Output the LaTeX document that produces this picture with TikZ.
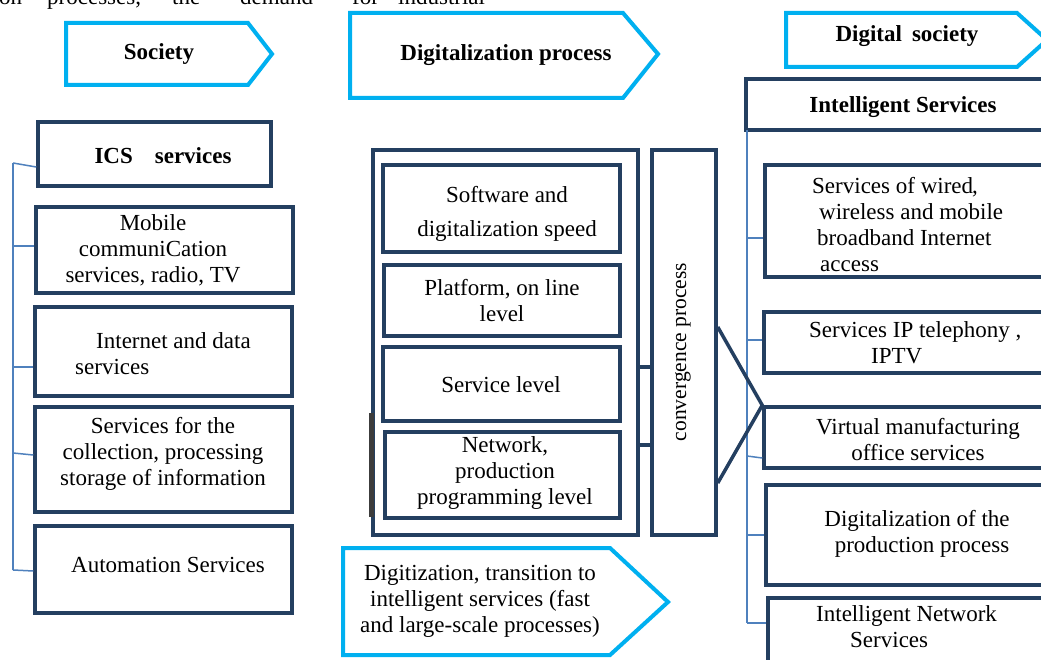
\documentclass[tikz,border=0pt]{standalone}
\usepackage{fontspec}
\setmainfont{Liberation Serif}
\usetikzlibrary{fit}
\definecolor{navy}{HTML}{243F60}
\definecolor{cyanb}{HTML}{00B0F0}
\definecolor{brkc}{HTML}{4F81BD}
\definecolor{barc}{HTML}{3C3C3C}
\begin{document}
\begin{tikzpicture}[x=1pt,y=-1pt,
  box/.style={draw=navy, line width=3.5pt, inner sep=0pt, rectangle},
  txt/.style={font=\fontsize{23}{26}\selectfont, align=center, inner sep=0pt},
  ltxt/.style={font=\fontsize{23}{26}\selectfont, align=left, inner sep=0pt, anchor=west},
  btxt/.style={font=\fontsize{23}{26}\selectfont\bfseries, align=center, inner sep=0pt},
  tag/.style={draw=cyanb, line width=4pt, line join=miter},
  brk/.style={draw=brkc, line width=1.5pt},
  link/.style={draw=navy, line width=3.5pt, line join=miter}]
\useasboundingbox (0,0) rectangle (1041,660);
\clip (0,0) rectangle (1041,660);
\fill[white] (0,0) rectangle (1041,660);

% cut-off line of body text at the top
\begin{scope}[every node/.style={font=\fontsize{23}{26}\selectfont, inner sep=0pt, anchor=base west}]
\node (w1) at (-1,5) {on};
\node (w2) at (47,5) {processes,};
\node (w3) at (172,5) {the};
\node (w4) at (240,5) {demand};
\node (w5) at (352,5) {for};
\node (w6) at (398,5) {industrial};
\end{scope}

% tag arrows
\draw[tag] (66,23) -- (248,23) -- (272,54) -- (248,85) -- (66,85) -- cycle;
\node[btxt] (soc) at (159,54) {Society};
\draw[tag] (350,13) -- (623,13) -- (658,54) -- (623,98) -- (350,98) -- cycle;
\node[btxt] (dproc) at (506,55) {Digitalization process};
\draw[tag] (786,13) -- (1017,13) -- (1047,40) -- (1017,67) -- (786,67) -- cycle;
\node[btxt] (dsoc) at (907,36) {Digital\hspace{10pt}society};
\draw[tag] (343,548) -- (610,548) -- (668,602) -- (610,655) -- (343,655) -- cycle;
\node[txt] (digit) at (480,601) {Digitization, transition to\\intelligent services (fast\\and large-scale processes)};

% left column boxes
\node[box, fit={(38,122) (271,186)}] (ics) {};
\node[box, fit={(36,207) (293,293)}] (mob) {};
\node[box, fit={(35,307) (292,396)}] (inet) {};
\node[box, fit={(35,407) (292,512)}] (coll) {};
\node[box, fit={(35,526) (292,613)}] (auto) {};
\node[btxt] (icsT) at (163,156) {ICS\hspace{22pt}services};
\node[txt] (mobT) at (153,250) {Mobile\\communiCation\\services, radio, TV};
\node[ltxt] (inetT) at (75,354) {\hspace*{21pt}Internet and data\\services};
\node[txt] (collT) at (163,454) {Services for the\\collection, processing\\storage of information};
\node[txt] (autoT) at (168,565) {Automation Services};

% left bracket
\coordinate (lt) at (13,163);
\coordinate (lb) at (13,570);
\draw[brk] (lt) -- (lb);
\draw[brk] (lt) -- (ics.west |- 0,167);
\draw[brk] (13,246) -- (mob.west |- 0,246);
\draw[brk] (13,367) -- (inet.west |- 0,367);
\draw[brk] (13,453) -- (coll.west |- 0,455);
\draw[brk] (lb) -- (auto.west |- 0,571);

% middle
\node[box, fit={(373,150) (638,535)}] (outer) {};
\node[box, fit={(383,165) (620,252)}] (soft) {};
\node[box, fit={(384,265) (620,336)}] (plat) {};
\node[box, fit={(383,347) (620,421)}] (serv) {};
\node[box, fit={(385,432) (620,518)}] (net) {};
\node[box, fit={(652,150) (716,535)}] (conv) {};
\draw[barc, line width=5pt] (outer.west |- 0,413) -- (outer.west |- 0,517);
\node[txt, font=\fontsize{23}{34}\selectfont] (softT) at (507,214) {Software and\\digitalization speed};
\node[txt] (platT) at (502,301) {Platform, on line\\level};
\node[txt] (servT) at (501,385) {Service level};
\node[txt] (netT) at (505,473) {Network,\\production\\programming level};
\node[txt, font=\fontsize{21.5}{24}\selectfont, rotate=90] (convT) at (683,352) {convergence process};
\draw[link] (outer.east |- 0,367) -- (conv.west |- 0,367);
\draw[link] (outer.east |- 0,445) -- (conv.west |- 0,445);

% right column
\node[box, fit={(746,79) (1070,130)}] (isv) {};
\node[box, fit={(765,165) (1070,277)}] (wired) {};
\node[box, fit={(764,312) (1070,373)}] (ip) {};
\node[box, fit={(764,407) (1070,468)}] (virt) {};
\node[box, fit={(766,485) (1070,585)}] (dig) {};
\node[box, fit={(768,598) (1070,680)}] (inw) {};
\node[btxt] (isvT) at (903,107) {Intelligent Services};
\node[ltxt] (wiredT) at (812,225) {Services of wired\kern-1pt,\\\hspace*{7pt}wireless and mobile\\\hspace*{5pt}broadband Internet\\\hspace*{8pt}access};
\node[ltxt] (ipT) at (809,343) {Services IP telephony ,\\\hspace*{62pt}IPTV};
\node[txt] (virtT) at (918,440) {Virtual manufacturing\\office services};
\node[txt] (digT) at (917,534) {Digitalization of the\\\hspace*{10pt}production process};
\node[ltxt] (inwT) at (816,627) {Intelligent Network\\\hspace*{34pt}Services};

% right bracket
\coordinate (rt) at (747,130);
\coordinate (rb) at (747,623);
\draw[brk] (rt) -- (rb);
\draw[brk] (747,238) -- (wired.west |- 0,238);
\draw[brk] (747,340) -- (ip.west |- 0,340);
\draw[brk] (747,456) -- (virt.west |- 0,458);
\draw[brk] (747,535) -- (dig.west |- 0,535);
\draw[brk] (rb) -- (inw.west |- 0,623);

% convergence arrow
\draw[link] (conv.east |- 0,327) -- (virt.north west) -- (conv.east |- 0,483);
\end{tikzpicture}
\end{document}
